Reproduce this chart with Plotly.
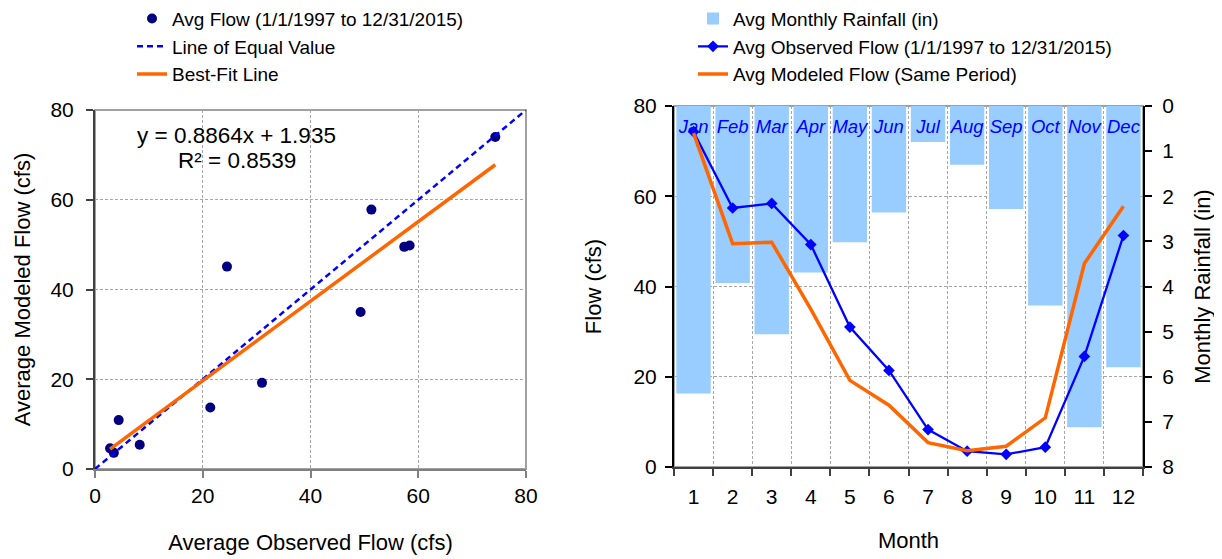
import plotly.graph_objects as go

# monthly averages
months = ['Jan', 'Feb', 'Mar', 'Apr', 'May', 'Jun', 'Jul', 'Aug', 'Sep', 'Oct', 'Nov', 'Dec']
month_nums = ['1', '2', '3', '4', '5', '6', '7', '8', '9', '10', '11', '12']
observed_flow = [74.3, 57.4, 58.4, 49.3, 31.0, 21.4, 8.3, 3.5, 2.8, 4.4, 24.5, 51.3]
modeled_flow = [74.0, 49.5, 49.8, 35.0, 19.2, 13.7, 5.4, 3.6, 4.6, 10.9, 45.1, 57.8]
rainfall_in = [6.37, 3.92, 5.06, 3.69, 3.02, 2.36, 0.80, 1.30, 2.28, 4.42, 7.12, 5.79]
month_label_flow = [75] * 12

# trendline from the chart's label
fit_slope = 0.8864
fit_intercept = 1.935
fit_r2 = 0.8539
equal_line = [0, 80]

FONT = 'Liberation Sans, Arial, sans-serif'
GRID = '#A6A6A6'

# page has an 8px body margin, so the figure is a bit smaller than the window
W, H, PAGE_OFF = 1214, 551, 8


def fx(px):
    return (px - PAGE_OFF) / W


def fy(px):
    return 1 - (px - PAGE_OFF) / H


fit_x = [min(observed_flow), max(observed_flow)]
fit_y = [fit_slope * x + fit_intercept for x in fit_x]

fig = go.Figure()

# ---- left: observed vs modeled scatter ----
fig.add_trace(go.Scatter(
    x=observed_flow, y=modeled_flow, mode='markers', name='Avg Flow (1/1/1997 to 12/31/2015)',
    marker=dict(color='#000080', size=10), xaxis='x', yaxis='y', legend='legend', cliponaxis=False))
fig.add_trace(go.Scatter(
    x=equal_line, y=equal_line, mode='lines', name='Line of Equal Value',
    line=dict(color='#0000FF', width=2.5, dash='6px,4px'), xaxis='x', yaxis='y', legend='legend'))
fig.add_trace(go.Scatter(
    x=fit_x, y=fit_y, mode='lines', name='Best-Fit Line',
    line=dict(color='#FF6600', width=3.5), xaxis='x', yaxis='y', legend='legend'))

# ---- right: monthly rainfall and flow ----
fig.add_trace(go.Bar(
    x=month_nums, y=rainfall_in, name='Avg Monthly Rainfall (in)',
    marker=dict(color='#99CCFF', line=dict(width=0)), xaxis='x2', yaxis='y2', legend='legend2'))
fig.add_trace(go.Scatter(
    x=month_nums, y=month_label_flow, mode='text', text=months, showlegend=False,
    textfont=dict(color='#0000FF', size=18.5, family=FONT, style='italic'),
    xaxis='x2', yaxis='y3', cliponaxis=False))
fig.add_trace(go.Scatter(
    x=month_nums, y=observed_flow, mode='lines+markers', name='Avg Observed Flow (1/1/1997 to 12/31/2015)',
    line=dict(color='#0000FF', width=2.3), marker=dict(symbol='diamond', size=9, color='#0000FF'),
    xaxis='x2', yaxis='y3', legend='legend2', cliponaxis=False))
fig.add_trace(go.Scatter(
    x=month_nums, y=modeled_flow, mode='lines', name='Avg Modeled Flow (Same Period)',
    line=dict(color='#FF6600', width=3.5), xaxis='x2', yaxis='y3', legend='legend2', cliponaxis=False))

grid_kw = dict(showgrid=True, gridcolor=GRID, gridwidth=1, griddash='3px,2px', zeroline=False)
tick_kw = dict(ticks='outside', ticklen=7, tickwidth=1.5, tickfont=dict(size=21, color='black'),
               automargin=False)

fig.update_layout(
    width=W, height=H,
    margin=dict(l=0, r=0, t=0, b=0, autoexpand=False),
    paper_bgcolor='white', plot_bgcolor='white',
    font=dict(family=FONT, size=21, color='black'),
    showlegend=True, bargap=0.12,
    xaxis=dict(domain=[fx(95), fx(526)], anchor='y', range=[0, 80], dtick=20,
               showline=True, linecolor='#808080', linewidth=2, tickcolor='#808080',
               ticklabelstandoff=0,
               title=dict(text='Average Observed Flow (cfs)', font=dict(size=22), standoff=28),
               **grid_kw, **tick_kw),
    yaxis=dict(domain=[fy(469), fy(110)], anchor='x', range=[0, 80], dtick=20,
               showline=True, linecolor='#404040', linewidth=2, tickcolor='#404040',
               ticklabelstandoff=8,
               title=dict(text='Average Modeled Flow (cfs)', font=dict(size=22), standoff=14),
               **grid_kw, **tick_kw),
    xaxis2=dict(domain=[fx(674), fx(1143)], anchor='y2', type='category', tickson='boundaries',
                range=[-0.5, len(month_nums) - 0.5], autorange=False,
                showline=True, linecolor='#404040', linewidth=2, tickcolor='#404040',
                ticklabelstandoff=10,
                title=dict(text='Month', font=dict(size=22), standoff=25),
                **grid_kw, **tick_kw),
    yaxis2=dict(domain=[fy(467), fy(106)], anchor='x2', side='right', range=[8, 0], dtick=1,
                showgrid=False, zeroline=False,
                showline=True, linecolor='black', linewidth=2, tickcolor='black',
                ticklabelstandoff=6,
                title=dict(text='Monthly Rainfall (in)', font=dict(size=22), standoff=21),
                **tick_kw),
    yaxis3=dict(overlaying='y2', anchor='x2', side='left', range=[0, 80], dtick=20,
                showline=True, linecolor='black', linewidth=2, tickcolor='black',
                ticklabelstandoff=4,
                title=dict(text='Flow (cfs)', font=dict(size=22), standoff=26),
                **grid_kw, **tick_kw),
    legend=dict(x=fx(132), y=1.015, xanchor='left', yanchor='top', bgcolor='rgba(0,0,0,0)',
                font=dict(size=19), tracegroupgap=2),
    legend2=dict(x=fx(693), y=1.015, xanchor='left', yanchor='top', bgcolor='rgba(0,0,0,0)',
                 font=dict(size=19), tracegroupgap=2),
    shapes=[
        dict(type='rect', xref='x domain', yref='y domain', x0=0, x1=1, y0=0, y1=1,
             line=dict(color='#A0A0A0', width=2), layer='below'),
        dict(type='rect', xref='x2 domain', yref='y2 domain', x0=0, x1=1, y0=0, y1=1,
             line=dict(color='#A0A0A0', width=2), layer='below'),
    ],
    annotations=[
        dict(text='y = 0.8864x + 1.935', x=26.2, y=74.4, xref='x', yref='y',
             showarrow=False, font=dict(size=22.5), xanchor='center', yanchor='middle'),
        dict(text=f'R² = {fit_r2}', x=26.3, y=68.8, xref='x', yref='y',
             showarrow=False, font=dict(size=22.5), xanchor='center', yanchor='middle'),
    ],
)

fig.write_html('out.html')
